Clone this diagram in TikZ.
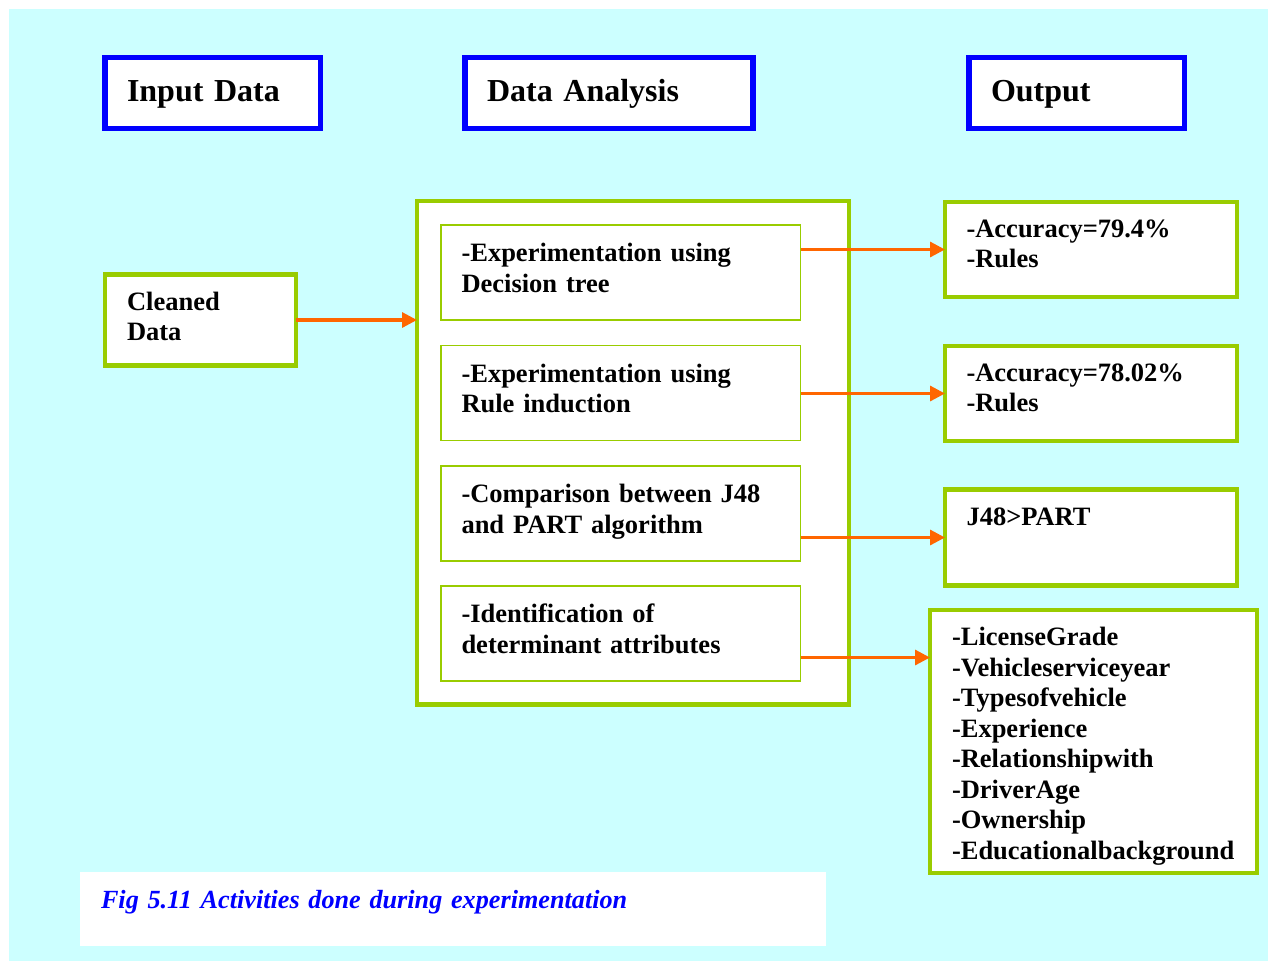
\documentclass[tikz,border=0pt]{standalone}
\usepackage{fontspec}
\setmainfont{Liberation Serif}
\usetikzlibrary{arrows.meta}
\definecolor{bgcyan}{RGB}{204,255,255}
\definecolor{boxgreen}{RGB}{153,204,0}
\definecolor{arrorange}{RGB}{255,102,0}

\begin{document}
\begin{tikzpicture}[x=1pt,y=-1pt,
    box/.style={rectangle, fill=white, anchor=north west, align=left, inner ysep=0pt,
      outer sep=0pt, font=\fontsize{26.5}{30.5}\selectfont\bfseries},
    head/.style={box, draw=blue, line width=5.5pt, inner xsep=22pt, text width=#1,
      text height=43.5pt, text depth=27.5pt, font=\fontsize{32}{36}\selectfont\bfseries},
    greenbox/.style={box, draw=boxgreen, line width=4.5pt},
    stepbox/.style={box, draw=boxgreen, line width=1.8pt, inner xsep=20.5pt,
      text width=318.5pt, text height=36.5pt, text depth=58.5pt},
    resbox/.style={greenbox, inner xsep=21.5pt, text width=249pt,
      text height=35pt, text depth=60pt},
    flow/.style={draw=arrorange, line width=3.2pt, -{Triangle[length=15pt,width=15pt]}}]

\fill[white] (0,0) rectangle (1274,961);
\fill[bgcyan] (9,9) rectangle (1268,961);
\useasboundingbox (0,0) rectangle (1274,961);

\node[head=171.7pt] (in) at (105,57.5) {Input Data};
\node[head=244pt] (da) at (465,57.5) {Data Analysis};
\node[head=171.5pt] (out) at (969,57.5) {Output};

\node[greenbox, inner xsep=22pt, text width=147pt, text height=35.5pt, text depth=55.5pt]
  (clean) at (105,274.5) {Cleaned\\Data};

\node[greenbox, minimum width=432pt, minimum height=503.5pt, inner sep=0pt] (dabox) at (417,201) {};
\node[stepbox] (step1) at (441,225) {-Experimentation using\\Decision tree};
\node[stepbox] (step2) at (441,345.5) {-Experimentation using\\Rule induction};
\node[stepbox] (step3) at (441,466) {-Comparison between J48\\and PART algorithm};
\node[stepbox] (step4) at (441,586) {-Identification of\\determinant attributes};

\node[resbox] (res1) at (945,202) {-Accuracy=79.4\%\\-Rules};
\node[resbox] (res2) at (945,346) {-Accuracy=78.02\%\\-Rules};
\node[resbox, text height=36pt] (res3) at (945,489.5) {J48>PART};
\node[greenbox, inner xsep=22pt, text width=283pt, text height=35.7pt, text depth=227.3pt]
  (res4) at (930,610) {-LicenseGrade\\-Vehicleserviceyear\\-Typesofvehicle\\-Experience\\
  -Relationshipwith\\-DriverAge\\-Ownership\\-Educationalbackground};

\node[box, inner xsep=21pt, text width=704pt, text height=36pt, text depth=38pt,
  text=blue, font=\fontsize{26.2}{30.5}\selectfont\bfseries\itshape]
  (cap) at (80,872) {Fig 5.11 Activities done during experimentation};

\draw[flow] (clean.east) -- (clean.east -| dabox.west);
\foreach \i in {1,2,3}
  \draw[flow] (res\i.west -| step\i.east) -- (res\i.west);
\draw[flow] ([yshift=-24pt]step4.east) -- ([yshift=-24pt]step4.east -| res4.west);

\end{tikzpicture}
\end{document}
